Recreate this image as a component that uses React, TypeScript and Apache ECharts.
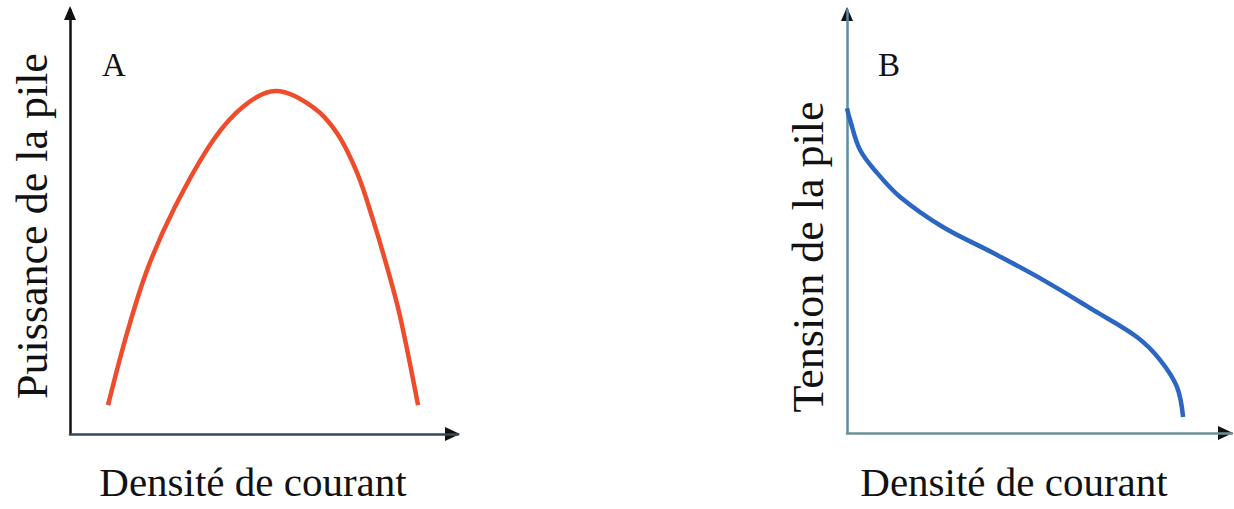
import React, { useEffect, useRef } from "react";
import * as echarts from "echarts";

// Panel A: power of the cell vs current density (normalized units 0..100)
const powerX = [9.8, 14.7, 20.0, 27.0, 36.9, 45.0, 53.0, 62.6, 68.8, 74.0, 78.1, 81.7, 85.1, 89.7];
const powerY = [6.8, 23.8, 39.0, 53.5, 69.3, 77.5, 80.9, 77.1, 71.0, 61.6, 50.5, 39.4, 27.6, 6.8];

// Panel B: voltage of the cell vs current density (normalized units 0..100)
const tensionX = [0, 0.8, 3.4, 7.8, 13.8, 24.9, 37.9, 50.9, 63.9, 75.3, 81.3, 85.7, 87.3];
const tensionY = [76.8, 74.0, 66.9, 61.5, 55.8, 48.7, 42.6, 36.2, 29.1, 22.7, 17.3, 10.9, 3.8];

const xLabel = "Densité de courant";
const yLabelA = "Puissance de la pile";
const yLabelB = "Tension de la pile";
const panelA = "A";
const panelB = "B";

const FONT = "'Liberation Serif', 'DejaVu Serif', 'Times New Roman', serif";

export default function App() {
  const ref = useRef<HTMLDivElement>(null);
  useEffect(() => {
    if (!ref.current) return;
    const chart = echarts.init(ref.current, null, { renderer: "svg" });
    const axisBase = (color: string) => ({
      type: "value",
      min: 0,
      max: 100,
      axisLine: { show: true, lineStyle: { color, width: 2.5 } },
      axisTick: { show: false },
      axisLabel: { show: false },
      splitLine: { show: false },
    });
    const text = (t: string, x: number, y: number, size: number, rot = 0) => ({
      type: "text",
      x,
      y,
      rotation: rot,
      style: {
        text: t,
        fill: "#111",
        fontFamily: FONT,
        fontSize: size,
        align: "center",
        verticalAlign: "middle",
      },
    });
    chart.setOption({
      animation: false,
      backgroundColor: "#ffffff",
      textStyle: { fontFamily: FONT },
      grid: [
        { left: 70, top: 10, width: 388, height: 424 },
        { left: 847, top: 10, width: 385, height: 423 },
      ],
      xAxis: [
        { ...axisBase("#34495a"), gridIndex: 0 },
        { ...axisBase("#6d9098"), gridIndex: 1 },
      ],
      yAxis: [
        { ...axisBase("#111111"), gridIndex: 0 },
        { ...axisBase("#5a8ea2"), gridIndex: 1 },
      ],
      series: [
        {
          type: "line",
          xAxisIndex: 0,
          yAxisIndex: 0,
          data: powerX.map((x, i) => [x, powerY[i]]),
          smooth: 0.35,
          showSymbol: false,
          lineStyle: { color: "#ef4c2c", width: 4.5 },
        },
        {
          type: "line",
          xAxisIndex: 1,
          yAxisIndex: 1,
          data: tensionX.map((x, i) => [x, tensionY[i]]),
          smooth: 0.35,
          showSymbol: false,
          lineStyle: { color: "#2b66c2", width: 4.5 },
        },
      ],
      graphic: [
        { type: "polygon", shape: { points: [[70, 6], [64, 20], [76, 20]] }, style: { fill: "#111" } },
        { type: "polygon", shape: { points: [[460, 434], [445, 427], [445, 441]] }, style: { fill: "#111" } },
        { type: "polygon", shape: { points: [[847, 7], [841, 21], [853, 21]] }, style: { fill: "#111" } },
        { type: "polygon", shape: { points: [[1233, 433], [1218, 426], [1218, 440]] }, style: { fill: "#111" } },
        text(panelA, 114, 65, 33),
        text(panelB, 889, 65, 33),
        text(xLabel, 253, 482, 41),
        text(xLabel, 1014, 482, 41),
        text(yLabelA, 32, 226, 44, Math.PI / 2),
        text(yLabelB, 808, 257, 44, Math.PI / 2),
      ],
    });
    return () => chart.dispose();
  }, []);
  return (
    <div
      ref={ref}
      style={{ position: "fixed", left: 0, top: 0, width: 1234, height: 509, background: "#fff" }}
    />
  );
}
